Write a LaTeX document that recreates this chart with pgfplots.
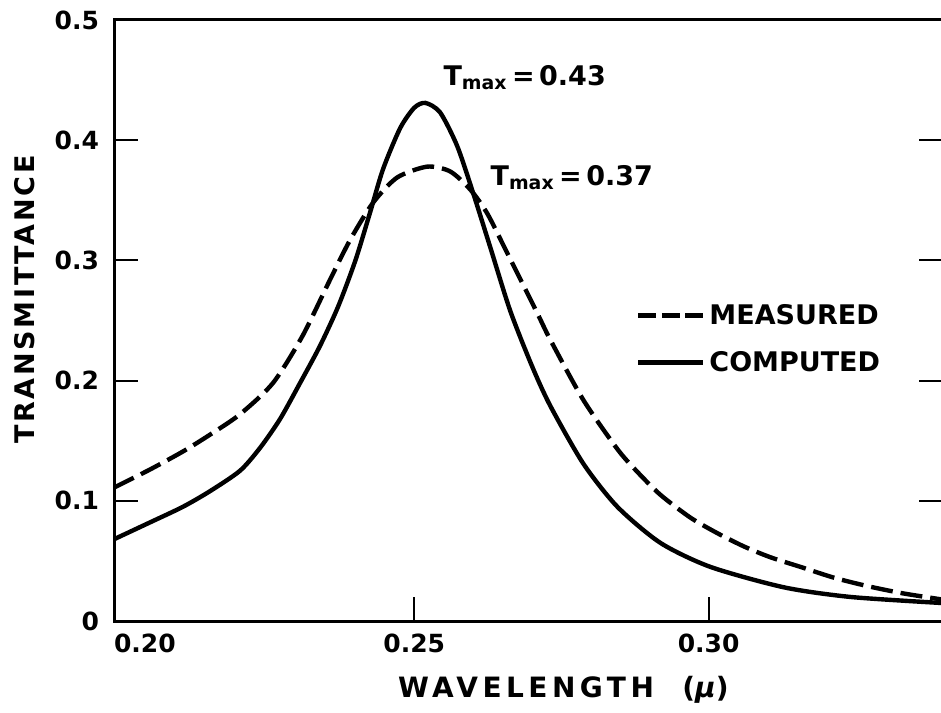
\documentclass[border=0pt]{standalone}
\usepackage{fontspec}
\setmainfont{DejaVu Sans}
\usepackage{pgfplots}
\pgfplotsset{compat=1.18}
\usetikzlibrary{calc}
\newfontfamily\spaced[LetterSpace=16]{DejaVu Sans}
\newfontfamily\spacedb[LetterSpace=10]{DejaVu Sans}

\pgfplotstableread{
x y
0.1990 0.068
0.2051 0.082
0.2107 0.095
0.2153 0.108
0.2204 0.125
0.2238 0.144
0.2272 0.168
0.2306 0.198
0.2340 0.229
0.2371 0.262
0.2400 0.300
0.2425 0.340
0.2447 0.376
0.2476 0.410
0.2500 0.427
0.2519 0.431
0.2544 0.423
0.2573 0.395
0.2600 0.356
0.2629 0.311
0.2663 0.258
0.2700 0.212
0.2731 0.179
0.2787 0.131
0.2845 0.095
0.2918 0.065
0.3003 0.045
0.3128 0.028
0.3241 0.020
0.3395 0.015
}\computed

\pgfplotstableread{
x y
0.1990 0.111
0.2051 0.126
0.2107 0.141
0.2153 0.155
0.2204 0.172
0.2260 0.198
0.2310 0.237
0.2357 0.284
0.2391 0.317
0.2430 0.348
0.2471 0.369
0.2522 0.378
0.2561 0.374
0.2595 0.359
0.2624 0.339
0.2658 0.306
0.2709 0.256
0.2731 0.234
0.2787 0.184
0.2845 0.143
0.2879 0.124
0.2918 0.105
0.2969 0.086
0.3015 0.073
0.3060 0.062
0.3105 0.053
0.3156 0.045
0.3213 0.036
0.3270 0.029
0.3330 0.023
0.3395 0.018
}\measured

\begin{document}
\begin{tikzpicture}
\begin{axis}[name=ax, scale only axis, width=414.5pt, height=300.5pt,
  xmin=0.199, xmax=0.3398, ymin=0, ymax=0.5,
  axis line style={line width=1.5pt},
  xtick={0.25,0.30}, xticklabels={0.25,0.30},
  extra x ticks={0.2}, extra x tick labels={0.20},
  extra x tick style={major tick length=0pt, xticklabel style={xshift=12.5pt}},
  ytick={0,0.1,0.2,0.3,0.4,0.5}, yticklabels={0,0.1,0.2,0.3,0.4,0.5},
  ytick pos=both, xtick pos=bottom,
  tick align=inside, major tick length=12pt,
  every tick/.style={line width=1pt, black},
  /pgf/number format/assume math mode=true,
  tick label style={font=\bfseries\fontsize{12.5}{14}\selectfont},
  yticklabel style={xshift=-4pt},
  xticklabel style={yshift=-3pt},
  xlabel={\spaced\bfseries WAVELENGTH\ \ ({\itshape μ})},
  ylabel={\spacedb\bfseries TRANSMITTANCE},
  every axis x label/.style={at={(rel axis cs:0.542,0)}, anchor=center, yshift=-34.5pt, font=\fontsize{14}{16}\selectfont},
  every axis y label/.style={at={(rel axis cs:0,0.535)}, xshift=-44.5pt, anchor=center, rotate=90, font=\fontsize{13.5}{16}\selectfont},
  legend style={draw=none, fill=none, at={(axis cs:0.2876,0.2346)}, anchor=west,
    inner sep=0pt, font=\bfseries\fontsize{13.5}{16}\selectfont, row sep=8pt},
  legend image code/.code={\draw[#1] (0pt,0pt) -- (32.5pt,0pt);},
  legend cell align=left,
]
\addlegendimage{black, line width=2.2pt, dash pattern=on 9pt off 2.75pt}
\addlegendentry{MEASURED}
\addlegendimage{black, line width=2.2pt}
\addlegendentry{COMPUTED}
\addplot[black, line width=2.2pt, dash pattern=on 11pt off 4pt, smooth, tension=0.45, forget plot] table {\measured};
\addplot[black, line width=2.2pt, smooth, tension=0.45, forget plot] table {\computed};
\node[anchor=west, font=\bfseries\fontsize{13.5}{16}\selectfont, inner sep=0pt] at (axis cs:0.2549,0.452) {T\textsubscript{max}\,=\,0.43};
\node[anchor=west, font=\bfseries\fontsize{13.5}{16}\selectfont, inner sep=0pt] at (axis cs:0.2629,0.369) {T\textsubscript{max}\,=\,0.37};
\end{axis}
\pgfresetboundingbox
\path[use as bounding box] ($(ax.south west)+(-57pt,-45.5pt)$) rectangle ($(ax.north east)+(-1pt,10pt)$);
\end{tikzpicture}
\end{document}
